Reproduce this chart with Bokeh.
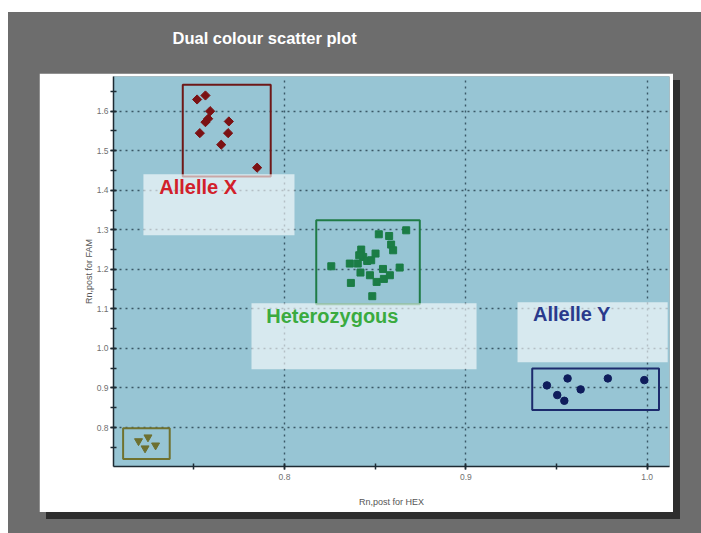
from bokeh.plotting import figure
from bokeh.models import SingleIntervalTicker, NumeralTickFormatter, ColumnDataSource, Column, Row, Spacer
from bokeh.core.properties import value
from bokeh.embed import file_html
from bokeh.resources import INLINE

# ---------------- data ----------------
title_text = "Dual colour scatter plot"
x_label = "Rn,post for HEX"
y_label = "Rn,post for FAM"

allele_x_hex = [0.7518, 0.7564, 0.7590, 0.7579, 0.7564, 0.7533, 0.7693, 0.7689, 0.7651, 0.7849]
allele_x_fam = [1.6295, 1.6396, 1.6000, 1.5808, 1.5722, 1.5444, 1.5740, 1.5444, 1.5152, 1.4571]

het_hex = [0.8258, 0.8360, 0.8404, 0.8423, 0.8434, 0.8456, 0.8478, 0.8502, 0.8419, 0.8366,
           0.8471, 0.8508, 0.8543, 0.8548, 0.8581, 0.8635, 0.8484, 0.8520, 0.8577, 0.8588,
           0.8599, 0.8671, 0.8412]
het_fam = [1.2078, 1.2146, 1.2146, 1.2500, 1.2313, 1.2212, 1.2230, 1.2399, 1.1919, 1.1657,
           1.1851, 1.1682, 1.2010, 1.1758, 1.1851, 1.2045, 1.1321, 1.2886, 1.2843, 1.2626,
           1.2482, 1.2987, 1.2356]

allele_y_hex = [0.9447, 0.9561, 0.9504, 0.9543, 0.9633, 0.9783, 0.9984]
allele_y_fam = [0.9066, 0.9242, 0.8821, 0.8677, 0.8965, 0.9242, 0.9199]

ntc_hex = [0.7195, 0.7247, 0.7231, 0.7289]
ntc_fam = [0.7659, 0.7755, 0.7477, 0.7551]

# cluster outline boxes: allele X, heterozygous, allele Y, no-template
box_left = [0.7439, 0.8175, 0.9366, 0.7110]
box_right = [0.7924, 0.8746, 1.0065, 0.7367]
box_top = [1.6667, 1.3240, 0.9495, 0.7980]
box_bottom = [1.4350, 1.1119, 0.8442, 0.7205]

# label panels and texts
label_texts = ["Allelle X", "Heterozygous", "Allelle Y"]
label_x = [0.7309, 0.7899, 0.9370]
label_y = [1.4090, 1.0822, 1.0873]
panel_left = [0.7222, 0.7818, 0.9285]
panel_right = [0.8055, 0.9059, 1.0113]
panel_top = [1.4402, 1.1144, 1.1169]
panel_bottom = [1.2861, 0.9477, 0.9654]

x_start, x_end = 0.7057, 1.0123
y_start, y_end = 0.7015, 1.6876

# ---------------- styles / layout ----------------
GREY = "#6d6d6d"
SHADOW = "#2e2e2e"
BLUE = "#97c5d4"
FONT = "Liberation Sans"
box_colors = ["#6e1818", "#1f7b46", "#1c2a6c", "#70722f"]
label_colors = ["#d2202a", "#3aab3f", "#2a3a8c"]

# ---- title strip ----
TW, TH = 693, 61
tf = figure(width=TW, height=TH, x_range=(0, TW), y_range=(TH, 0),
            output_backend="svg", toolbar_location=None,
            x_axis_type=None, y_axis_type=None, min_border=0)
tf.border_fill_color = GREY
tf.background_fill_color = GREY
tf.outline_line_color = None
tf.text(x=[164], y=[25], text=[title_text], text_color="white", text_font=value(FONT),
        text_font_style="bold", text_font_size="16.5px", text_baseline="alphabetic")

# ---- main chart (white panel) ----
PW, PH = 634, 439
p = figure(width=PW, height=PH, x_range=(x_start, x_end), y_range=(y_start, y_end),
           output_backend="svg", toolbar_location=None,
           min_border_left=74, min_border_right=4, min_border_top=3, min_border_bottom=46)
p.border_fill_color = "white"
p.background_fill_color = BLUE
p.outline_line_color = None
p.styles = {"box-shadow": "7px 7px 0px " + SHADOW}

for ax in (p.xaxis, p.yaxis):
    ax.ticker = SingleIntervalTicker(interval=0.1, num_minor_ticks=2)
    ax.formatter = NumeralTickFormatter(format="0.0")
    ax.axis_line_color = "#1d2b33"
    ax.axis_line_width = 1.5
    ax.major_tick_line_color = "#1d2b33"
    ax.minor_tick_line_color = "#1d2b33"
    ax.major_tick_line_width = 1.5
    ax.minor_tick_line_width = 1.5
    ax.major_tick_in = 3
    ax.major_tick_out = 3
    ax.minor_tick_in = 3
    ax.minor_tick_out = 3
    ax.major_label_text_font = FONT
    ax.major_label_text_font_size = "8.5px"
    ax.major_label_text_color = "#707070"
    ax.axis_label_text_font = FONT
    ax.axis_label_text_font_size = "9px"
    ax.axis_label_text_font_style = "normal"
    ax.axis_label_text_color = "#555555"
p.xaxis.axis_label = x_label
p.yaxis.axis_label = y_label
p.xaxis.major_label_standoff = 4
p.yaxis.major_label_standoff = 2
p.xaxis.axis_label_standoff = 14
p.yaxis.axis_label_standoff = 0

for g in (p.xgrid, p.ygrid):
    g.ticker = SingleIntervalTicker(interval=0.1)
    g.grid_line_color = "#3a5866"
    g.grid_line_width = 1.4
    g.grid_line_dash = "2 4"

# cluster boxes
p.quad(left=box_left, right=box_right, top=box_top, bottom=box_bottom,
       fill_color=None, line_color=box_colors, line_width=2)

# points
p.scatter(allele_x_hex, allele_x_fam, marker="square", angle=0.785398, size=6.5, color="#7b1113")
p.scatter(het_hex, het_fam, marker="square", size=7, color="#1b7d46")
p.scatter(allele_y_hex, allele_y_fam, marker="circle", size=7.5, color="#0f1d5c")
p.scatter(ntc_hex, ntc_fam, marker="inverted_triangle", size=8, color="#6d7030")

# label panels
p.quad(left=panel_left, right=panel_right, top=panel_top, bottom=panel_bottom,
       fill_color="white", fill_alpha=0.62, line_color=None)

src = ColumnDataSource(dict(x=label_x, y=label_y, t=label_texts, c=label_colors))
p.text(x="x", y="y", text="t", source=src, text_color="c", text_font=value(FONT),
       text_font_style="bold", text_font_size="20px", text_baseline="alphabetic")

body = Row(children=[Spacer(width=31, height=PH), p, Spacer(width=28, height=PH)], spacing=0)
page = Column(children=[tf, body, Spacer(width=TW, height=21)], spacing=0,
              margin=(12, 0, 0, 8), styles={"background-color": GREY})

open("out.html", "w").write(file_html(page, INLINE))
